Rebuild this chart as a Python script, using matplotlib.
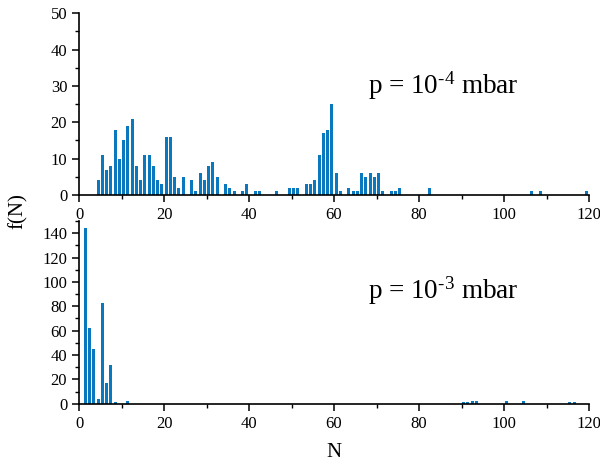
import matplotlib
matplotlib.use("Agg")
import matplotlib.pyplot as plt
from matplotlib.ticker import MultipleLocator
import numpy as np

# ---- data (histogram bins [N, N+1)) ----
n_low = [4, 5, 6, 7, 8, 9, 10, 11, 12, 13, 14, 15, 16, 17, 18, 19, 20, 21, 22, 23, 24,
         26, 27, 28, 29, 30, 31, 32, 34, 35, 36, 38, 39, 41, 42, 46, 49, 50, 51, 53, 54,
         55, 56, 57, 58, 59, 60, 61, 63, 64, 65, 66, 67, 68, 69, 70, 71, 73, 74, 75, 82,
         106, 108, 119]
f_low = [4, 11, 7, 8, 18, 10, 15, 19, 21, 8, 4, 11, 11, 8, 4, 3, 16, 16, 5, 2, 5,
         4, 1, 6, 4, 8, 9, 5, 3, 2, 1, 1, 3, 1, 1, 1, 2, 2, 2, 3, 3,
         4, 11, 17, 18, 25, 6, 1, 2, 1, 1, 6, 5, 6, 5, 6, 1, 1, 1, 2, 2,
         1, 1, 1]

n_high = [1, 2, 3, 4, 5, 6, 7, 8, 11, 90, 91, 92, 93, 100, 104, 115, 116]
f_high = [144, 62, 45, 4, 83, 17, 32, 1, 2, 1, 1, 2, 2, 2, 2, 1, 1]

label_low = r"p = 10$^{\text{-4}}$ mbar"
label_high = r"p = 10$^{\text{-3}}$ mbar"

plt.rcParams["font.family"] = ["Liberation Serif", "DejaVu Serif"]
plt.rcParams["mathtext.fontset"] = "custom"
plt.rcParams["mathtext.rm"] = "Liberation Serif"
plt.rcParams["mathtext.it"] = "Liberation Serif:italic"
plt.rcParams["mathtext.default"] = "regular"

bar_color = "#0a78be"

fig = plt.figure(figsize=(6.0, 4.68), dpi=100)
ax1 = fig.add_axes([0.1317, 0.5833, 0.85, 0.3883])
ax2 = fig.add_axes([0.1317, 0.1374, 0.85, 0.3904])


def style(ax, ymax, ymaj, ymin):
    ax.set_xlim(0, 120)
    ax.set_ylim(0, ymax)
    for s in ("top", "right"):
        ax.spines[s].set_visible(False)
    for s in ("left", "bottom"):
        ax.spines[s].set_linewidth(1.2)
    ax.xaxis.set_major_locator(MultipleLocator(20))
    ax.xaxis.set_minor_locator(MultipleLocator(10))
    ax.yaxis.set_major_locator(MultipleLocator(ymaj))
    ax.yaxis.set_minor_locator(MultipleLocator(ymin))
    ax.tick_params(which="major", length=5, width=1.1, labelsize=12, direction="out")
    ax.tick_params(which="minor", length=3, width=1.0, direction="out")


ax1.bar(np.array(n_low) + 0.5, f_low, width=0.7, color=bar_color, edgecolor="none")
style(ax1, 50, 10, 5)
ax1.text(68, 30, label_low, fontsize=19.5, va="center", ha="left")

ax2.bar(np.array(n_high) + 0.5, f_high, width=0.7, color=bar_color, edgecolor="none")
style(ax2, 150, 20, 10)
ax2.set_yticks([0, 20, 40, 60, 80, 100, 120, 140])
ax2.text(68, 93, label_high, fontsize=19.5, va="center", ha="left")

ax2.set_xlabel("N", fontsize=15, labelpad=8)
fig.text(0.03, 0.55, "f(N)", rotation=90, fontsize=15, va="center", ha="center")

fig.savefig("out.png", dpi=100)
